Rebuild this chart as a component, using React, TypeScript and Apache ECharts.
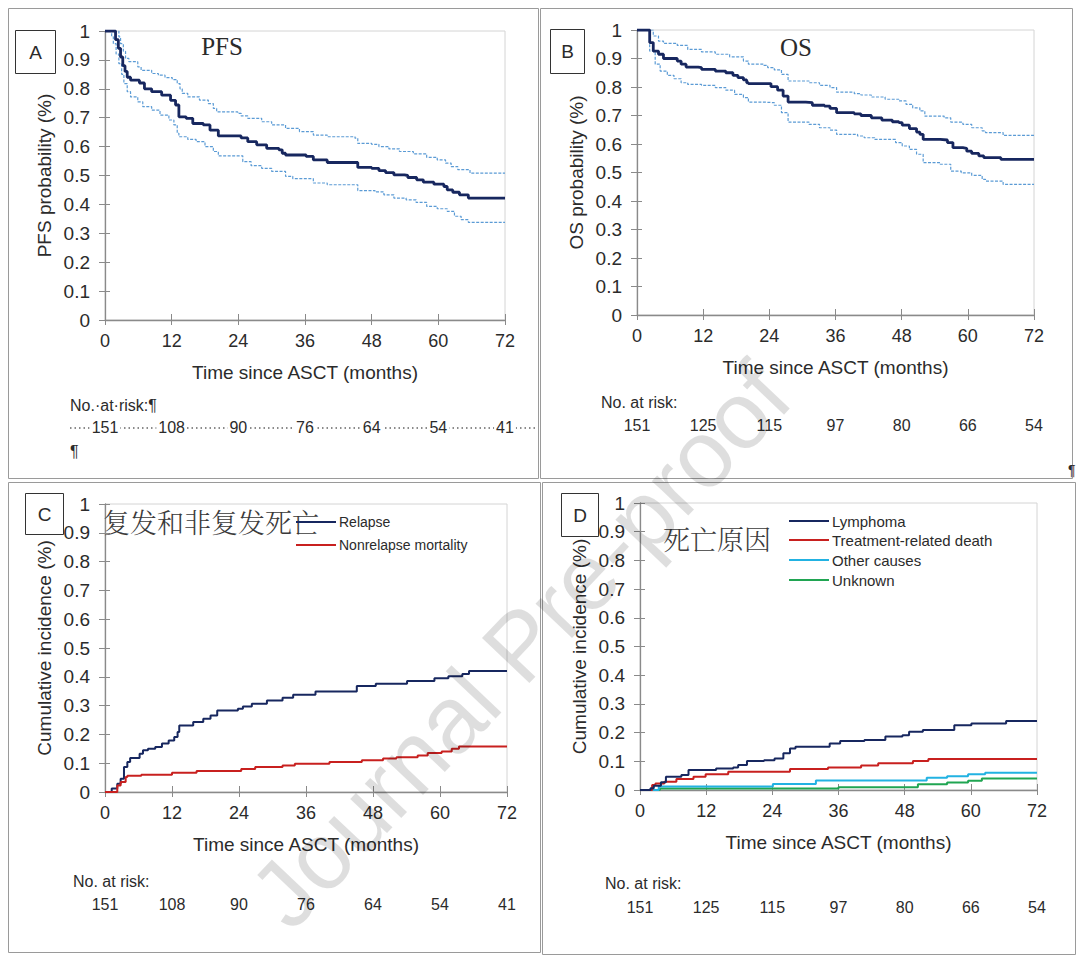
import React, { useEffect, useRef } from "react";
import * as echarts from "echarts";

type Pt = [number, number];

const SANS = '"Liberation Sans", Arial, sans-serif';
const SERIF = '"Liberation Serif", "DejaVu Serif", serif';
const CJK = '"Noto Serif CJK SC", "Noto Sans CJK SC", sans-serif';

const X_TICKS = [0, 12, 24, 36, 48, 60, 72];
const X_NAME = "Time since ASCT (months)";

// Panel A – PFS
const PFS_MAIN: Pt[] = [[0,1],[1.5,1],[1.9,0.97],[2.4,0.94],[2.8,0.91],[3.2,0.88],[3.6,0.86],[4.0,0.84],[4.6,0.83],[6.2,0.82],[7.1,0.80],[8.4,0.79],[10.2,0.778],[11.8,0.76],[12.7,0.744],[13.3,0.703],[14.6,0.698],[15.8,0.68],[17.7,0.675],[18.9,0.657],[20.4,0.637],[24.5,0.63],[25.7,0.617],[27.3,0.606],[29.1,0.594],[31.3,0.589],[31.9,0.577],[32.5,0.571],[36.2,0.566],[37.5,0.554],[40,0.545],[45.5,0.528],[48,0.525],[49.3,0.517],[50.5,0.51],[52,0.502],[53.9,0.5],[54.5,0.493],[56.1,0.485],[57.3,0.477],[59.2,0.47],[61,0.462],[61.6,0.45],[62.6,0.442],[63.8,0.433],[65.4,0.422],[72,0.422]];
const PFS_UPPER: Pt[] = [[0,1],[2.2,1],[2.5,0.98],[2.8,0.956],[3.3,0.93],[3.7,0.905],[4.3,0.894],[5.9,0.876],[6.5,0.864],[8.4,0.853],[9.6,0.847],[10.8,0.839],[12.1,0.832],[13,0.818],[13.5,0.8],[13.9,0.784],[14.9,0.772],[17,0.761],[18.6,0.749],[19.5,0.732],[20.1,0.72],[23.9,0.715],[24.5,0.706],[25.7,0.698],[28.2,0.686],[30,0.675],[32.5,0.663],[35,0.652],[37.5,0.64],[40,0.634],[45,0.629],[45.5,0.611],[48,0.608],[49.3,0.6],[51.1,0.592],[53,0.583],[55.5,0.575],[57.9,0.563],[59.8,0.554],[61.3,0.543],[62.3,0.531],[63.5,0.52],[65.7,0.508],[72,0.508]];
const PFS_LOWER: Pt[] = [[0,1],[0.9,1],[1.2,0.98],[1.5,0.956],[2,0.92],[2.5,0.887],[3,0.85],[3.4,0.818],[4,0.79],[4.6,0.772],[5.9,0.755],[6.8,0.738],[8.4,0.726],[9.9,0.709],[11.5,0.692],[12.4,0.675],[13,0.646],[13.3,0.634],[14.9,0.625],[16.4,0.617],[18,0.6],[19.5,0.583],[20.4,0.568],[24.8,0.548],[26.3,0.534],[28.2,0.525],[30,0.514],[32.5,0.497],[33.8,0.489],[37.5,0.474],[40,0.468],[45.5,0.448],[48.6,0.443],[50.2,0.433],[52,0.422],[54.2,0.416],[56,0.407],[57.9,0.393],[59.8,0.385],[61.6,0.376],[62.9,0.359],[64.1,0.347],[65.4,0.338],[72,0.338]];

// Panel B – OS
const OS_MAIN: Pt[] = [[0,1],[2.0,1],[2.3,0.956],[2.95,0.926],[3.9,0.915],[4.8,0.9],[7.3,0.891],[8,0.88],[8.9,0.87],[11.1,0.868],[11.7,0.862],[14.2,0.856],[16.1,0.85],[17.4,0.841],[18.3,0.833],[19.3,0.825],[19.9,0.815],[20.2,0.812],[24.3,0.801],[25.5,0.789],[26.5,0.768],[27.4,0.747],[30.6,0.745],[31.8,0.736],[34,0.733],[35,0.725],[36.2,0.71],[39.4,0.706],[40.6,0.7],[42.5,0.692],[44.4,0.684],[46.3,0.678],[47.5,0.675],[48.1,0.666],[49.4,0.654],[50.7,0.642],[51.3,0.634],[51.9,0.616],[55,0.614],[56.3,0.605],[57.3,0.587],[59.1,0.585],[59.8,0.575],[60.7,0.567],[62,0.558],[62.9,0.552],[66,0.546],[72,0.546]];
const OS_UPPER: Pt[] = [[0,1],[2.0,1],[2.95,0.979],[3.9,0.961],[4.8,0.953],[7.3,0.946],[9.2,0.932],[11.7,0.923],[14.2,0.915],[16.8,0.906],[19.3,0.891],[20.2,0.88],[23,0.876],[23.7,0.868],[24.9,0.86],[26.2,0.844],[27.4,0.821],[31.2,0.815],[33.1,0.806],[35,0.798],[36.2,0.782],[39.4,0.777],[40.6,0.772],[42.5,0.765],[45,0.757],[47.5,0.751],[48.8,0.739],[50,0.727],[51.3,0.716],[52.2,0.698],[55.7,0.692],[56.9,0.677],[59.1,0.669],[60.7,0.657],[62.6,0.646],[63.2,0.64],[66.4,0.63],[72,0.63]];
const OS_LOWER: Pt[] = [[0,1],[1.7,1],[2.3,0.926],[3.3,0.88],[4.2,0.856],[5.5,0.841],[6.7,0.829],[8,0.815],[9.2,0.809],[11.7,0.806],[14.2,0.798],[16.1,0.789],[17.7,0.774],[19.3,0.763],[20.2,0.747],[23,0.745],[24.9,0.736],[26.2,0.71],[27.4,0.677],[31.2,0.669],[33.1,0.657],[35,0.649],[36.2,0.634],[40,0.628],[41.2,0.622],[43.1,0.616],[46.9,0.605],[48.1,0.593],[49.4,0.581],[50.7,0.564],[51.9,0.535],[55,0.529],[56.9,0.505],[58.8,0.499],[60.7,0.49],[62.6,0.476],[63.2,0.47],[66.4,0.458],[72,0.456]];

// Panel C – relapse / NRM
const RELAPSE: Pt[] = [[0,0],[0.9,0],[1.2,0.012],[2.2,0.029],[2.8,0.046],[3.4,0.087],[4,0.104],[4.5,0.118],[6.2,0.133],[6.8,0.145],[7.7,0.15],[9,0.156],[10.2,0.168],[11.4,0.179],[12.4,0.191],[13,0.208],[13.3,0.231],[15.8,0.243],[17.6,0.254],[18.9,0.266],[20.1,0.283],[23.8,0.289],[24.7,0.297],[26.3,0.306],[29,0.318],[31.8,0.327],[33.7,0.338],[37.7,0.349],[45.1,0.368],[48.5,0.376],[54.1,0.385],[59,0.395],[61.5,0.402],[64,0.41],[65.2,0.42],[72,0.42]];
const NRM: Pt[] = [[0,0],[1.5,0],[2.2,0.023],[2.8,0.035],[3.7,0.052],[4,0.056],[6.5,0.06],[12,0.067],[16.4,0.073],[24.4,0.08],[26.9,0.087],[31.8,0.092],[34,0.098],[40.2,0.104],[46,0.11],[49.8,0.116],[52.2,0.121],[56,0.127],[57.8,0.135],[60.3,0.141],[62.1,0.15],[63.4,0.158],[72,0.158]];

// Panel D – causes of death
const LYMPHOMA: Pt[] = [[0,0],[1.25,0],[1.9,0.006],[2.5,0.015],[3.8,0.027],[4.7,0.046],[7.5,0.052],[8.8,0.07],[13.8,0.075],[16.9,0.078],[17.8,0.087],[19.4,0.101],[22.5,0.104],[24.4,0.11],[26,0.128],[27.2,0.145],[28.2,0.151],[34.4,0.162],[36.3,0.171],[40.7,0.174],[44.5,0.186],[47.6,0.191],[48.8,0.203],[51.3,0.209],[57,0.226],[60.1,0.232],[66.4,0.24],[72,0.24]];
const TREATMENT: Pt[] = [[0,0],[1.6,0],[2.2,0.017],[2.8,0.023],[4.4,0.029],[6.6,0.038],[9.7,0.046],[11.9,0.055],[16,0.064],[27.2,0.073],[34.1,0.078],[40.1,0.085],[43.2,0.093],[49.5,0.101],[52.3,0.108],[72,0.108]];
const OTHER: Pt[] = [[0,0],[2.8,0],[3.4,0.012],[24.1,0.021],[31.9,0.033],[52,0.043],[55.7,0.048],[59.5,0.055],[62.6,0.06],[72,0.06]];
const UNKNOWN: Pt[] = [[0,0],[3,0],[3.6,0.005],[36,0.01],[50.4,0.02],[55.7,0.026],[59.5,0.032],[62,0.04],[72,0.04]];

// No. at risk rows
const RISK_PFS = ["151", "108", "90", "76", "64", "54", "41"];
const RISK_OS = ["151", "125", "115", "97", "80", "66", "54"];

const NAVY = "#17275f";
const CI = "#5b9bd5";
const RED = "#c8201f";
const CYAN = "#22b2e2";
const GREEN = "#20a552";
const AXIS = "#8a8a8a";
const TXT = "#2b2b2b";

const GRIDS = [
  { left: 105, top: 31, width: 400, height: 289 },
  { left: 637, top: 30, width: 397, height: 285 },
  { left: 105, top: 504, width: 402, height: 288 },
  { left: 640, top: 503, width: 397, height: 287 },
];

function xAxesFor(i: number) {
  return [
    {
      type: "value", gridIndex: i, min: 0, max: 72, interval: 12, position: "bottom",
      name: X_NAME, nameLocation: "middle", nameGap: 43,
      nameTextStyle: { fontSize: 19, color: TXT, fontFamily: SANS },
      axisLine: { show: true, onZero: false, lineStyle: { color: AXIS, width: 1.3 } },
      axisTick: { show: true, length: 5, lineStyle: { color: AXIS } },
      axisLabel: { fontSize: 18, color: TXT, margin: 12, fontFamily: SANS },
      splitLine: { show: false },
    },
    {
      type: "value", gridIndex: i, min: 0, max: 72, interval: 12, position: "bottom",
      axisLine: { show: false, onZero: false },
      axisTick: { show: true, inside: true, length: 6, lineStyle: { color: AXIS } },
      axisLabel: { show: false },
      splitLine: { show: false },
    },
  ];
}

function yAxesFor(i: number, name: string) {
  return [
    {
      type: "value", gridIndex: i, min: 0, max: 1, interval: 0.1, position: "left",
      name, nameLocation: "middle", nameGap: 51, nameRotate: 90,
      nameTextStyle: { fontSize: 19, color: TXT, fontFamily: SANS },
      axisLine: { show: true, onZero: false, lineStyle: { color: AXIS, width: 1.3 } },
      axisTick: { show: true, length: 6, lineStyle: { color: AXIS } },
      axisLabel: { fontSize: 19, color: TXT, margin: 15, fontFamily: SANS },
      splitLine: { show: false },
    },
    {
      type: "value", gridIndex: i, min: 0, max: 1, interval: 0.1, position: "left",
      axisLine: { show: false, onZero: false },
      axisTick: { show: true, inside: true, length: 5, lineStyle: { color: AXIS } },
      axisLabel: { show: false },
      splitLine: { show: false },
    },
  ];
}

function line(name: string, grid: number, data: Pt[], color: string, width: number, dashed = false) {
  return {
    name, type: "line", step: "end", xAxisIndex: grid * 2, yAxisIndex: grid * 2,
    data, symbol: "none", silent: true,
    lineStyle: { color, width, type: dashed ? [3, 1.5] : "solid" },
    z: dashed ? 2 : 3,
  };
}

function xPix(g: number, t: number) {
  const G = GRIDS[g];
  return G.left + (t / 72) * G.width;
}

function txt(x: number, y: number, text: string, font: string, align = "left", extra: any = {}) {
  return {
    type: "text", x, y, z: 50,
    style: { text, font, fill: TXT, align, verticalAlign: "middle", ...extra },
  };
}

function box(x: number, y: number, w: number, h: number, stroke: string, fill = "none", z = 40) {
  return { type: "rect", z, shape: { x, y, width: w, height: h }, style: { fill, stroke, lineWidth: 1 } };
}

function legendLine(x1: number, x2: number, y: number, color: string) {
  return { type: "line", z: 55, shape: { x1, y1: y, x2, y2: y }, style: { stroke: color, lineWidth: 2 } };
}

export default function App() {
  const ref = useRef<HTMLDivElement>(null);

  useEffect(() => {
    if (!ref.current) return;
    const chart = echarts.init(ref.current, null, { renderer: "svg", width: 1080, height: 958 });

    const riskFont = `16px ${SANS}`;
    const graphics: any[] = [
      // panel frames
      box(8.5, 8.5, 530, 470, "#9a9a9a", "none", 1),
      box(540.5, 8.5, 532, 470, "#9a9a9a", "none", 1),
      box(8.5, 482.5, 532, 470, "#9a9a9a", "none", 1),
      box(542.5, 482.5, 533, 472, "#9a9a9a", "none", 1),
      // panel letters
      box(15.5, 30.5, 40, 43, "#333", "#fff"),
      txt(35.5, 52, "A", `19px ${SANS}`, "center"),
      box(550.5, 29.5, 34, 44, "#333", "#fff"),
      txt(567.5, 51, "B", `19px ${SANS}`, "center"),
      box(25.5, 493.5, 38, 41, "#333", "#fff"),
      txt(44.5, 514, "C", `19px ${SANS}`, "center"),
      box(561.5, 493.5, 37, 43, "#333", "#fff"),
      txt(580, 515, "D", `19px ${SANS}`, "center"),
      // titles
      txt(222, 46, "PFS", `25px ${SERIF}`, "center"),
      txt(796, 47, "OS", `25px ${SERIF}`, "center"),
      txt(103, 521, "复发和非复发死亡", `300 27px ${CJK}`, "left", { fill: "#3a3a3a" }),
      txt(663, 538, "死亡原因", `300 27px ${CJK}`, "left", { fill: "#3a3a3a" }),
      // legend C
      legendLine(296, 336, 522, NAVY),
      txt(339, 522, "Relapse", `14px ${SANS}`),
      legendLine(296, 336, 545, RED),
      txt(339, 545, "Nonrelapse mortality", `14px ${SANS}`),
      // legend D
      legendLine(789, 829, 521, NAVY),
      txt(832, 521, "Lymphoma", `15px ${SANS}`),
      legendLine(789, 829, 540, RED),
      txt(832, 540, "Treatment-related death", `15px ${SANS}`),
      legendLine(789, 829, 560, CYAN),
      txt(832, 560, "Other causes", `15px ${SANS}`),
      legendLine(789, 829, 580, GREEN),
      txt(832, 580, "Unknown", `15px ${SANS}`),
      // at-risk A
      txt(70, 405, "No.·at·risk:¶", riskFont),
      { type: "line", z: 45, shape: { x1: 70, y1: 428, x2: 537, y2: 428 }, style: { stroke: "#666", lineWidth: 1.5, lineDash: [1.5, 3] } },
      txt(70, 451, "¶", riskFont),
      // at-risk B, C, D labels
      txt(601, 402, "No. at risk:", riskFont),
      txt(73, 881, "No. at risk:", riskFont),
      txt(605, 883, "No. at risk:", riskFont),
      txt(1068, 470, "¶", `14px ${SANS}`),
    ];
    X_TICKS.forEach((t, k) => {
      graphics.push(txt(xPix(0, t), 427, RISK_PFS[k], riskFont, "center", { backgroundColor: "#fff", padding: [0, 2] }));
      graphics.push(txt(xPix(1, t), 425, RISK_OS[k], riskFont, "center"));
      graphics.push(txt(xPix(2, t), 904, RISK_PFS[k], riskFont, "center"));
      graphics.push(txt(xPix(3, t), 907, RISK_OS[k], riskFont, "center"));
    });
    // watermark
    graphics.push({
      type: "text", x: 520, y: 645, rotation: (46.5 * Math.PI) / 180, z: 100, silent: true,
      style: { text: "Journal Pre-proof", font: `95px ${SANS}`, fill: "rgba(0,0,0,0.13)", align: "center", verticalAlign: "middle" },
    });

    const option: any = {
      animation: false,
      backgroundColor: "#fff",
      grid: GRIDS.map((g) => ({ ...g, show: true, borderColor: "#d4d4d4", borderWidth: 1, backgroundColor: "transparent" })),
      xAxis: [...xAxesFor(0), ...xAxesFor(1), ...xAxesFor(2), ...xAxesFor(3)],
      yAxis: [
        ...yAxesFor(0, "PFS probability (%)"),
        ...yAxesFor(1, "OS probability (%)"),
        ...yAxesFor(2, "Cumulative incidence (%)"),
        ...yAxesFor(3, "Cumulative incidence (%)"),
      ],
      series: [
        line("PFS upper", 0, PFS_UPPER, CI, 1.2, true),
        line("PFS lower", 0, PFS_LOWER, CI, 1.2, true),
        line("PFS", 0, PFS_MAIN, NAVY, 2.8),
        line("OS upper", 1, OS_UPPER, CI, 1.2, true),
        line("OS lower", 1, OS_LOWER, CI, 1.2, true),
        line("OS", 1, OS_MAIN, NAVY, 2.8),
        line("Relapse", 2, RELAPSE, NAVY, 2),
        line("Nonrelapse mortality", 2, NRM, RED, 2),
        line("Unknown", 3, UNKNOWN, GREEN, 2),
        line("Other causes", 3, OTHER, CYAN, 2),
        line("Treatment-related death", 3, TREATMENT, RED, 2),
        line("Lymphoma", 3, LYMPHOMA, NAVY, 2),
      ],
      graphic: graphics,
    };
    chart.setOption(option);
    return () => chart.dispose();
  }, []);

  return (
    <div
      ref={ref}
      style={{ position: "absolute", left: 0, top: 0, width: 1080, height: 958, background: "#fff" }}
    />
  );
}
